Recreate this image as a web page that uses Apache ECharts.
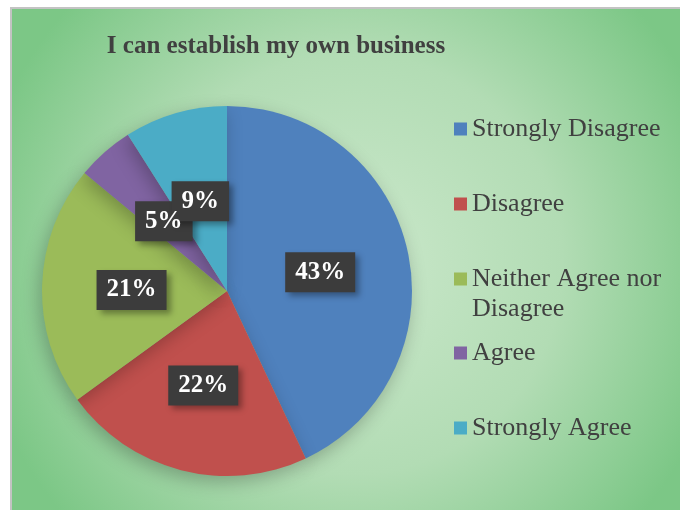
<!DOCTYPE html>
<html>
<head>
<meta charset="utf-8">
<script src="https://cdn.jsdelivr.net/npm/echarts@6/dist/echarts.min.js"></script>
<style>
html,body{margin:0;padding:0;background:#fff;width:680px;height:510px;overflow:hidden;}
#chart{position:absolute;left:10px;top:7px;width:680px;height:510px;border-left:2px solid #c3c3c3;border-top:2px solid #c3c3c3;}
</style>
</head>
<body>
<div id="chart"></div>
<script>
const titleText = 'I can establish my own business';
const categories = ['Strongly Disagree', 'Disagree', 'Neither Agree nor Disagree', 'Agree', 'Strongly Agree'];
const values = [43, 22, 21, 5, 9];
const colors = ['#4F81BD', '#C0504D', '#9BBB59', '#8064A2', '#4BACC6'];
const legendTops = [105, 180, 225, 329, 404];

const chart = echarts.init(document.getElementById('chart'), null, {renderer: 'canvas'});
const serif = "'Liberation Serif', 'Times New Roman', serif";

const legends = categories.map((name, i) => ({
  orient: 'vertical',
  left: 442,
  top: legendTops[i],
  data: [name],
  icon: 'rect',
  itemWidth: 13,
  itemHeight: 13,
  padding: 0,
  selectedMode: false,
  formatter: n => n === 'Neither Agree nor Disagree' ? '\nNeither Agree nor\nDisagree' : n,
  textStyle: {fontFamily: serif, fontSize: 26, color: '#404040', lineHeight: 30}
}));

const pieData = categories.map((n, i) => ({name: n, value: values[i]}));
const labelBase = {
  position: 'inside',
  formatter: '{c}%',
  offset: [0, 2],
  fontFamily: serif,
  fontSize: 25,
  fontWeight: 'bold',
  padding: [8, 10, 7, 10]
};

chart.setOption({
  backgroundColor: {
    type: 'radial', x: 0.5, y: 0.5, r: 0.75,
    colorStops: [{offset: 0, color: '#cbe8cb'}, {offset: 0.55, color: '#b2dcb4'}, {offset: 1, color: '#7cc786'}]
  },
  color: colors,
  title: {
    text: titleText,
    left: 259,
    top: 20,
    textAlign: 'center',
    textStyle: {fontFamily: serif, fontSize: 25, fontWeight: 'bold', color: '#404040'}
  },
  legend: legends,
  series: [{
    // slices + label boxes
    type: 'pie',
    z: 2,
    center: [215, 282],
    radius: 185,
    startAngle: 90,
    clockwise: true,
    animation: false,
    data: pieData,
    itemStyle: {shadowBlur: 18, shadowColor: 'rgba(0,0,0,0.25)', shadowOffsetX: -3, shadowOffsetY: 6},
    labelLayout: {hideOverlap: false},
    label: Object.assign({}, labelBase, {
      color: 'rgba(0,0,0,0)',
      backgroundColor: '#3c3c3c',
      shadowColor: 'rgba(0,0,0,0.35)',
      shadowBlur: 6,
      shadowOffsetX: 4,
      shadowOffsetY: 4
    }),
    labelLine: {show: false},
    emphasis: {disabled: true}
  }, {
    // label texts drawn above all boxes
    type: 'pie',
    z: 3,
    silent: true,
    center: [215, 282],
    radius: 185,
    startAngle: 90,
    clockwise: true,
    animation: false,
    data: pieData,
    itemStyle: {color: 'rgba(0,0,0,0)', borderWidth: 0},
    labelLayout: {hideOverlap: false},
    label: Object.assign({}, labelBase, {color: '#ffffff', opacity: 1}),
    labelLine: {show: false},
    emphasis: {disabled: true}
  }]
});
</script>
</body>
</html>
